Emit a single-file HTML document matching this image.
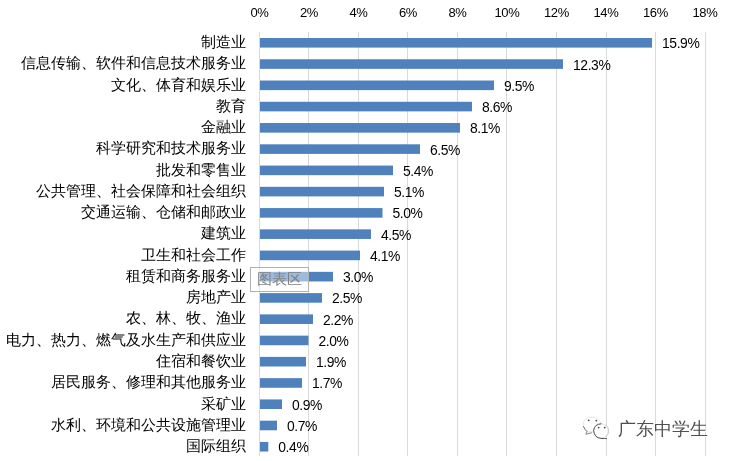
<!DOCTYPE html>
<html><head><meta charset="utf-8">
<style>
html,body{margin:0;padding:0;background:#fff;}
body{width:730px;height:461px;position:relative;overflow:hidden;font-family:"Liberation Sans",sans-serif;color:#000;}
svg{position:absolute;left:0;top:0;}
.ax{position:absolute;top:2.5px;width:60px;height:20px;line-height:20px;text-align:center;font-size:13px;letter-spacing:-0.3px;text-indent:-0.8px;}
.cat{position:absolute;left:0;width:245.5px;height:20px;line-height:20px;text-align:right;font-size:14.8px;font-weight:400;white-space:nowrap;}
.dl{position:absolute;height:20px;line-height:20px;font-size:13.9px;letter-spacing:-0.4px;white-space:nowrap;}
.tip{position:absolute;left:250px;top:267px;width:58.5px;height:24.5px;border:1px solid #b0b0b0;background:rgba(255,255,255,0.45);box-sizing:border-box;}
.tipt{position:absolute;left:256.5px;top:269.2px;height:20px;line-height:20px;font-size:15px;font-weight:400;color:#808080;white-space:nowrap;}
.wm{position:absolute;left:617.5px;top:417.7px;height:22px;line-height:22px;font-size:17.5px;font-weight:400;color:#505050;white-space:nowrap;text-shadow:1px 1px 0 #fff;}
#c{position:absolute;left:0;top:0;width:730px;height:461px;background:#fff;will-change:transform;}
</style></head><body><div id="c">
<svg width="730" height="461" viewBox="0 0 730 461">
<rect x="259" y="32" width="1" height="424" fill="#d9d9d9"/>
<rect x="308" y="32" width="1" height="424" fill="#d9d9d9"/>
<rect x="358" y="32" width="1" height="424" fill="#d9d9d9"/>
<rect x="407" y="32" width="1" height="424" fill="#d9d9d9"/>
<rect x="457" y="32" width="1" height="424" fill="#d9d9d9"/>
<rect x="506" y="32" width="1" height="424" fill="#d9d9d9"/>
<rect x="556" y="32" width="1" height="424" fill="#d9d9d9"/>
<rect x="606" y="32" width="1" height="424" fill="#d9d9d9"/>
<rect x="655" y="32" width="1" height="424" fill="#d9d9d9"/>
<rect x="705" y="32" width="1" height="424" fill="#d9d9d9"/>
<rect x="260" y="38.00" width="392.00" height="9.6" fill="#4f81bd"/>
<rect x="260" y="59.26" width="303.00" height="9.6" fill="#4f81bd"/>
<rect x="260" y="80.52" width="234.00" height="9.6" fill="#4f81bd"/>
<rect x="260" y="101.78" width="212.00" height="9.6" fill="#4f81bd"/>
<rect x="260" y="123.04" width="200.00" height="9.6" fill="#4f81bd"/>
<rect x="260" y="144.30" width="160.00" height="9.6" fill="#4f81bd"/>
<rect x="260" y="165.56" width="133.00" height="9.6" fill="#4f81bd"/>
<rect x="260" y="186.82" width="124.00" height="9.6" fill="#4f81bd"/>
<rect x="260" y="208.08" width="122.50" height="9.6" fill="#4f81bd"/>
<rect x="260" y="229.34" width="111.00" height="9.6" fill="#4f81bd"/>
<rect x="260" y="250.60" width="100.00" height="9.6" fill="#4f81bd"/>
<rect x="260" y="271.86" width="73.00" height="9.6" fill="#4f81bd"/>
<rect x="260" y="293.12" width="62.00" height="9.6" fill="#4f81bd"/>
<rect x="260" y="314.38" width="53.00" height="9.6" fill="#4f81bd"/>
<rect x="260" y="335.64" width="48.50" height="9.6" fill="#4f81bd"/>
<rect x="260" y="356.90" width="46.00" height="9.6" fill="#4f81bd"/>
<rect x="260" y="378.16" width="42.00" height="9.6" fill="#4f81bd"/>
<rect x="260" y="399.42" width="22.00" height="9.6" fill="#4f81bd"/>
<rect x="260" y="420.68" width="17.00" height="9.6" fill="#4f81bd"/>
<rect x="260" y="441.94" width="8.30" height="9.6" fill="#4f81bd"/>
</svg>
<div class="ax" style="left:229.90px">0%</div>
<div class="ax" style="left:279.40px">2%</div>
<div class="ax" style="left:328.90px">4%</div>
<div class="ax" style="left:378.40px">6%</div>
<div class="ax" style="left:427.90px">8%</div>
<div class="ax" style="left:477.40px">10%</div>
<div class="ax" style="left:526.90px">12%</div>
<div class="ax" style="left:576.40px">14%</div>
<div class="ax" style="left:625.90px">16%</div>
<div class="ax" style="left:675.40px">18%</div>
<div class="cat" style="top:32.10px">制造业</div>
<div class="dl" style="left:662.00px;top:33.30px">15.9%</div>
<div class="cat" style="top:53.36px">信息传输、软件和信息技术服务业</div>
<div class="dl" style="left:573.00px;top:54.56px">12.3%</div>
<div class="cat" style="top:74.62px">文化、体育和娱乐业</div>
<div class="dl" style="left:504.00px;top:75.82px">9.5%</div>
<div class="cat" style="top:95.88px">教育</div>
<div class="dl" style="left:482.00px;top:97.08px">8.6%</div>
<div class="cat" style="top:117.14px">金融业</div>
<div class="dl" style="left:470.00px;top:118.34px">8.1%</div>
<div class="cat" style="top:138.40px">科学研究和技术服务业</div>
<div class="dl" style="left:430.00px;top:139.60px">6.5%</div>
<div class="cat" style="top:159.66px">批发和零售业</div>
<div class="dl" style="left:403.00px;top:160.86px">5.4%</div>
<div class="cat" style="top:180.92px">公共管理、社会保障和社会组织</div>
<div class="dl" style="left:394.00px;top:182.12px">5.1%</div>
<div class="cat" style="top:202.18px">交通运输、仓储和邮政业</div>
<div class="dl" style="left:392.50px;top:203.38px">5.0%</div>
<div class="cat" style="top:223.44px">建筑业</div>
<div class="dl" style="left:381.00px;top:224.64px">4.5%</div>
<div class="cat" style="top:244.70px">卫生和社会工作</div>
<div class="dl" style="left:370.00px;top:245.90px">4.1%</div>
<div class="cat" style="top:265.96px">租赁和商务服务业</div>
<div class="dl" style="left:343.00px;top:267.16px">3.0%</div>
<div class="cat" style="top:287.22px">房地产业</div>
<div class="dl" style="left:332.00px;top:288.42px">2.5%</div>
<div class="cat" style="top:308.48px">农、林、牧、渔业</div>
<div class="dl" style="left:323.00px;top:309.68px">2.2%</div>
<div class="cat" style="top:329.74px">电力、热力、燃气及水生产和供应业</div>
<div class="dl" style="left:318.50px;top:330.94px">2.0%</div>
<div class="cat" style="top:351.00px">住宿和餐饮业</div>
<div class="dl" style="left:316.00px;top:352.20px">1.9%</div>
<div class="cat" style="top:372.26px">居民服务、修理和其他服务业</div>
<div class="dl" style="left:312.00px;top:373.46px">1.7%</div>
<div class="cat" style="top:393.52px">采矿业</div>
<div class="dl" style="left:292.00px;top:394.72px">0.9%</div>
<div class="cat" style="top:414.78px">水利、环境和公共设施管理业</div>
<div class="dl" style="left:287.00px;top:415.98px">0.7%</div>
<div class="cat" style="top:436.04px">国际组织</div>
<div class="dl" style="left:278.30px;top:437.24px">0.4%</div>
<div class="tip"></div>
<div class="tipt">图表区</div>
<svg width="730" height="461" viewBox="0 0 730 461">
<g fill="none" stroke-linecap="round" stroke-linejoin="round">
<ellipse cx="592" cy="424.5" rx="9" ry="7.5" stroke="#e6e6e6" stroke-width="1"/>
<path d="M583.5,426.5 Q584.5,430 587,431.5" stroke="#777" stroke-width="1"/>
<path d="M587,431.8 L585.8,434.3 L591.5,432.8" stroke="#888" stroke-width="1"/>
<ellipse cx="601" cy="431" rx="7.5" ry="7.2" fill="#fff" stroke="#e0e0e0" stroke-width="1"/>
<path d="M601,423.8 Q594.2,424.2 593.6,430.8 Q594.6,437.8 601,438.4 Q604.5,438.6 606.5,438.6" stroke="#555" stroke-width="1"/>
<path d="M606,424.8 Q608.6,427 608.6,431 Q608.6,434 606.8,436.2" stroke="#cfcfcf" stroke-width="1"/>
</g>
<g fill="#444">
<circle cx="588.7" cy="420.3" r="0.9"/><circle cx="596.3" cy="420.6" r="0.9"/>
<circle cx="598.6" cy="427.6" r="0.9"/><circle cx="604.7" cy="427.6" r="0.9"/>
</g>
</svg>
<div class="wm">广东中学生</div>
</div></body></html>
